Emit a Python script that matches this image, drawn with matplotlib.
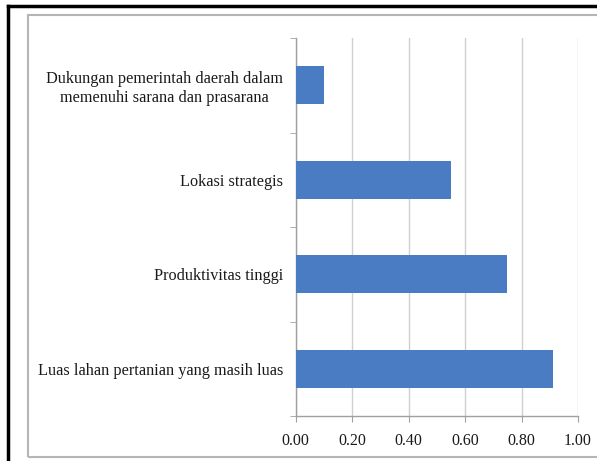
import matplotlib
matplotlib.use("Agg")
import matplotlib.pyplot as plt
from matplotlib.patches import Rectangle
from matplotlib.lines import Line2D
import numpy as np

categories = [
    "Luas lahan pertanian yang masih luas",
    "Produktivitas tinggi",
    "Lokasi strategis",
    "Dukungan pemerintah daerah dalam\nmemenuhi sarana dan prasarana",
]
values = [0.91, 0.75, 0.55, 0.10]
xticks = [0.0, 0.2, 0.4, 0.6, 0.8, 1.0]
xtick_labels = ["0.00", "0.20", "0.40", "0.60", "0.80", "1.00"]

plt.rcParams["font.family"] = ["Liberation Serif", "DejaVu Serif"]

W, H = 597, 461
fig = plt.figure(figsize=(W / 100, H / 100), dpi=100)
fig.patch.set_facecolor("white")

# axes placement in pixels
x0, x1 = 295.7, 578.0
y_top, y_bot = 38.0, 416.0
ax = fig.add_axes([x0 / W, 1 - y_bot / H, (x1 - x0) / W, (y_bot - y_top) / H])

y = np.arange(len(categories))
ax.barh(y, values, height=0.4, color="#4A7CC3", zorder=3)

ax.set_xlim(0, 1.0)
ax.set_ylim(-0.5, len(categories) - 0.5)
ax.set_xticks(xticks)
ax.set_xticklabels(xtick_labels, fontsize=11.5, color="#1A1A1A")
ax.set_yticks(y)
ax.set_yticklabels(categories, fontsize=11.7, color="#1A1A1A", multialignment="center")
ax.set_yticks(np.arange(-0.5, len(categories), 1.0), minor=True)

ax.tick_params(axis="y", which="major", length=0, pad=9)
ax.tick_params(axis="y", which="minor", length=4, color="#A0A0A0", direction="out")
ax.tick_params(axis="x", which="major", length=4, color="#A0A0A0", direction="out", pad=8)

ax.grid(axis="x", color="#D0D0D0", linewidth=1.0, zorder=0)
for s in ["top", "right"]:
    ax.spines[s].set_visible(False)
for s in ["left", "bottom"]:
    ax.spines[s].set_color("#A0A0A0")
    ax.spines[s].set_linewidth(1.0)

# inner chart-area frame
fig.add_artist(Rectangle((28 / W, 1 - 457 / H), (W + 10 - 28) / W, (457 - 15) / H,
                         transform=fig.transFigure, fill=False,
                         edgecolor="#B5B5B5", linewidth=1.5, clip_on=False))
# outer black border (top & left)
fig.add_artist(Line2D([7.5 / W, 1.0], [1 - 6.5 / H, 1 - 6.5 / H],
                      transform=fig.transFigure, color="black", linewidth=2.5))
fig.add_artist(Line2D([7.5 / W, 7.5 / W], [0, 1 - 6.5 / H],
                      transform=fig.transFigure, color="black", linewidth=2.5))

fig.savefig("out.png", dpi=100)
